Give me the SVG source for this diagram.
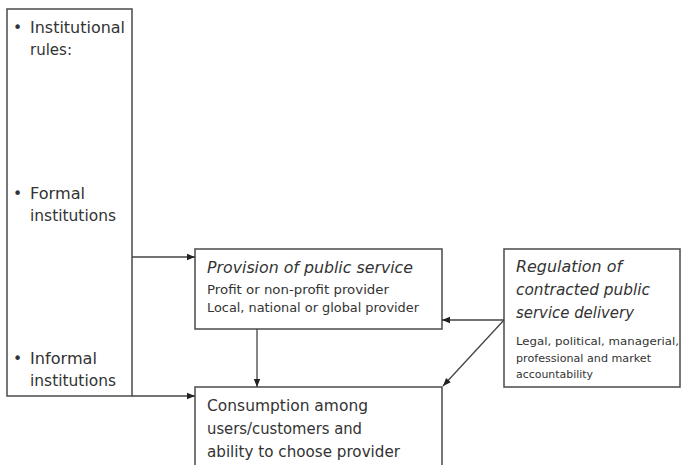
<svg xmlns="http://www.w3.org/2000/svg" width="682" height="465" viewBox="0 0 682 465">
<defs>
<marker id="ah" viewBox="0 0 10 10" refX="10" refY="5" markerWidth="8" markerHeight="8" markerUnits="userSpaceOnUse" orient="auto">
<path d="M0,1 L10,5 L0,9 z" fill="#222"/>
</marker>
<style>
.box{fill:#fff;stroke:#555;stroke-width:1.6}
.t{font-family:"DejaVu Sans","Liberation Sans",sans-serif;fill:#333}
.big{font-size:15.5px}
.it{font-style:italic}
.sm{font-size:12.5px}
.xs{font-size:11px}
.ln{stroke:#444;stroke-width:1.3;fill:none}
</style>
</defs>
<g id="rules">
<rect class="box" x="7" y="9" width="125" height="387"/>
<text class="t big" x="13" y="33">•</text>
<text class="t big" x="30" y="33" textLength="95" lengthAdjust="spacingAndGlyphs">Institutional</text>
<text class="t big" x="30" y="55" textLength="42" lengthAdjust="spacingAndGlyphs">rules:</text>
<text class="t big" x="13" y="199">•</text>
<text class="t big" x="30" y="199" textLength="55" lengthAdjust="spacingAndGlyphs">Formal</text>
<text class="t big" x="30" y="221" textLength="86" lengthAdjust="spacingAndGlyphs">institutions</text>
<text class="t big" x="13" y="364">•</text>
<text class="t big" x="30" y="364" textLength="67" lengthAdjust="spacingAndGlyphs">Informal</text>
<text class="t big" x="30" y="386" textLength="86" lengthAdjust="spacingAndGlyphs">institutions</text>
</g>
<g id="provision">
<rect class="box" x="195" y="249" width="247" height="80"/>
<text class="t big it" x="207" y="273" textLength="206" lengthAdjust="spacingAndGlyphs">Provision of public service</text>
<text class="t sm" x="207" y="294" textLength="182" lengthAdjust="spacingAndGlyphs">Profit or non-profit provider</text>
<text class="t sm" x="207" y="312" textLength="212" lengthAdjust="spacingAndGlyphs">Local, national or global provider</text>
</g>
<g id="consumption">
<rect class="box" x="195" y="387" width="247" height="90"/>
<text class="t big" x="207" y="411" textLength="161" lengthAdjust="spacingAndGlyphs">Consumption among</text>
<text class="t big" x="207" y="434" textLength="155" lengthAdjust="spacingAndGlyphs">users/customers and</text>
<text class="t big" x="207" y="457" textLength="193" lengthAdjust="spacingAndGlyphs">ability to choose provider</text>
</g>
<g id="regulation">
<rect class="box" x="504" y="249" width="176" height="138"/>
<text class="t big it" x="516" y="272" textLength="106" lengthAdjust="spacingAndGlyphs">Regulation of</text>
<text class="t big it" x="516" y="295" textLength="134" lengthAdjust="spacingAndGlyphs">contracted public</text>
<text class="t big it" x="516" y="318" textLength="118" lengthAdjust="spacingAndGlyphs">service delivery</text>
<text class="t xs" x="516" y="345" textLength="163" lengthAdjust="spacingAndGlyphs">Legal, political, managerial,</text>
<text class="t xs" x="516" y="362" textLength="135" lengthAdjust="spacingAndGlyphs">professional and market</text>
<text class="t xs" x="516" y="378" textLength="77" lengthAdjust="spacingAndGlyphs">accountability</text>
</g>
<g id="connectors">
<line class="ln" x1="132" y1="257" x2="195" y2="257" marker-end="url(#ah)"/>
<line class="ln" x1="132" y1="396" x2="195" y2="396" marker-end="url(#ah)"/>
<line class="ln" x1="257" y1="329" x2="257" y2="387" marker-end="url(#ah)"/>
<line class="ln" x1="504" y1="320" x2="442" y2="320" marker-end="url(#ah)"/>
<line class="ln" x1="504" y1="320" x2="443" y2="386" marker-end="url(#ah)"/>
</g>
</svg>
